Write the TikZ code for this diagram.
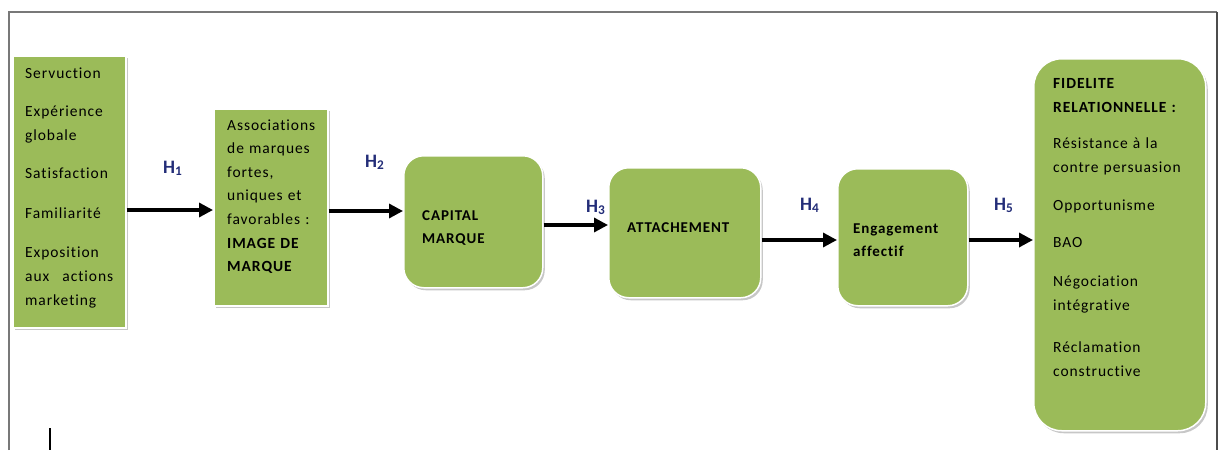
\documentclass[tikz,border=0pt]{standalone}
\usepackage{fontspec}
\usetikzlibrary{arrows.meta,shadows}
\newfontfamily\boxfont[LetterSpace=6,Ligatures=NoCommon]{Carlito}
\newfontfamily\hfont{Carlito}
\definecolor{boxgreen}{RGB}{155,187,89}
\definecolor{hblue}{RGB}{35,45,120}
\definecolor{framegray}{RGB}{120,120,120}
\begin{document}
\begin{tikzpicture}[x=1pt,y=-1pt,
  greenbox/.style={fill=boxgreen, draw=white, line width=1.5pt, anchor=north west,
    inner sep=0pt, drop shadow={shadow xshift=2pt, shadow yshift=-2.5pt, fill=black!22, opacity=1}},
  roundbox/.style={greenbox, rounded corners=20pt},
  boxtext/.style={anchor=base west, inner sep=0pt, align=left,
    font=\boxfont\fontsize{15.5}{24}\selectfont, text=black},
  boldtext/.style={boxtext, font=\boxfont\bfseries\fontsize{15}{23}\selectfont},
  hlab/.style={anchor=base west, inner sep=0pt, text=hblue,
    font=\hfont\bfseries\fontsize{19}{20}\selectfont},
  arr/.style={line width=3.3pt, -{Triangle[length=14pt,width=14pt]}}]
\useasboundingbox (0,0) rectangle (1222,450);

% open frame
\draw[framegray, line width=1.3pt] (9,450) -- (9,12) -- (1217,12);
\draw[black!70, line width=1.6pt] (1217,12) -- (1217,450);

% boxes
\node[greenbox, minimum width=113pt, minimum height=272pt] (b1) at (12,55) {};
\node[greenbox, minimum width=114pt, minimum height=197pt] (b2) at (213,108) {};
\node[roundbox, minimum width=139pt, minimum height=132pt] (b3) at (403,155) {};
\node[roundbox, minimum width=152pt, minimum height=130pt] (b4) at (608,167) {};
\node[roundbox, minimum width=130pt, minimum height=137pt] (b5) at (837,168) {};
\node[greenbox, rounded corners=28pt, minimum width=172pt, minimum height=372pt] (b6) at (1033,58) {};

% box texts
\node[boxtext, text width=88pt] (t1) at (25,78)
  {Servuction\\[14pt]
   Expérience\\ globale\\[14pt]
   Satisfaction\\[16pt]
   Familiarité\\[15pt]
   Exposition\\ aux\hfill actions\\ marketing};
\node[boxtext, text width=100pt, font=\boxfont\fontsize{15.5}{23.6}\selectfont] (t2) at (227,130)
  {Associations\\ de marques\\ fortes,\\ uniques et\\ favorables :\\
   \textbf{IMAGE DE}\\ \textbf{MARQUE}};
\node[boldtext, text width=110pt] (t3) at (422,220) {CAPITAL\\ MARQUE};
\node[boldtext, text width=130pt] (t4) at (627,232) {ATTACHEMENT};
\node[boldtext, text width=110pt] (t5) at (853,233) {Engagement\\ affectif};
\node[boxtext, text width=150pt] (t6) at (1053,88)
  {\textbf{FIDELITE}\\ \textbf{RELATIONNELLE :}\\[12pt]
   Résistance à la\\ contre persuasion\\[14pt]
   Opportunisme\\[13pt]
   BAO\\[15pt]
   Négociation\\ intégrative\\[18pt]
   Réclamation\\ constructive};

% hypothesis labels
\node[hlab] (h1) at (163,173) {H\textsubscript{1}};
\node[hlab] (h2) at (365,167) {H\textsubscript{2}};
\node[hlab] (h3) at (586,212) {H\textsubscript{3}};
\node[hlab] (h4) at (800,210) {H\textsubscript{4}};
\node[hlab] (h5) at (994,210) {H\textsubscript{5}};

% connectors
\draw[arr] (b1.east |- 0,210) -- (b2.west |- 0,210);
\draw[arr] (b2.east |- 0,211) -- (b3.west |- 0,211);
\draw[arr] (b3.east |- 0,225) -- (b4.west |- 0,225);
\draw[arr] (b4.east |- 0,240) -- (b5.west |- 0,240);
\draw[arr] (b5.east |- 0,240) -- (b6.west |- 0,240);

% stray tick at the lower left
\draw[black, line width=2pt] (50,428) -- (50,450);
\end{tikzpicture}
\end{document}
